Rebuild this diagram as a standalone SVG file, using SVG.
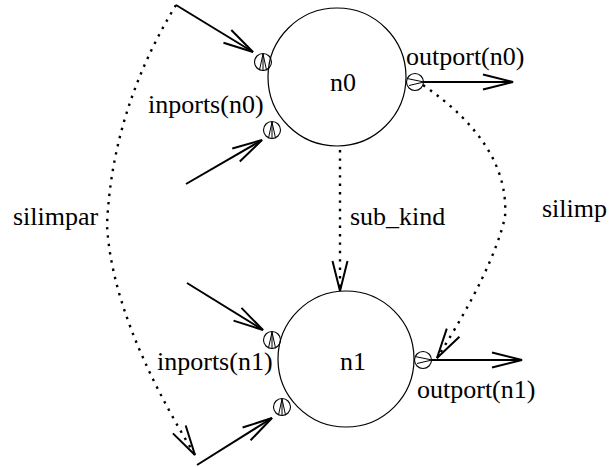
<svg xmlns="http://www.w3.org/2000/svg" xmlns:xlink="http://www.w3.org/1999/xlink" width="610" height="467" viewBox="0 0 610 467">
  <style>
    .node { fill: none; stroke: #000; stroke-width: 1.2; }
    .port { fill: none; stroke: #000; stroke-width: 1.1; }
    .glyph { fill: none; stroke: #000; stroke-width: 1; }
    .edge { fill: none; stroke: #000; stroke-width: 2; }
    .dot { fill: none; stroke: #000; stroke-width: 2.4; stroke-dasharray: 2.4 6; }
    .head { fill: none; stroke: #000; stroke-width: 2; stroke-dasharray: none; }
    .lbl { font-family: "Liberation Serif", "DejaVu Serif", "Times New Roman", serif; font-size: 26px; fill: #000; }
  </style>
  <defs>
    <marker id="open" markerUnits="userSpaceOnUse" markerWidth="40" markerHeight="40" refX="0" refY="0" orient="auto" overflow="visible">
      <path class="head" d="M-30,-7.5 L0,0 L-30,7.5"/>
    </marker>
    <!-- input port: small circle with an upward arrow -->
    <g id="inport">
      <circle class="port" r="8.5"/>
      <path class="glyph" d="M-3.5,8 L0,-8 L3.5,8 M0,-8 V9"/>
    </g>
    <!-- output port: small circle with a rightward arrow -->
    <g id="outport">
      <circle class="port" r="8.5"/>
      <path class="glyph" d="M-8,-3.5 L9,0 L-6,3.5"/>
    </g>
  </defs>

  <g id="n0">
    <circle class="node" cx="337" cy="77" r="69"/>
    <text class="lbl" x="330" y="91">n0</text>
  </g>
  <g id="n1">
    <circle class="node" cx="346" cy="359" r="68"/>
    <text class="lbl" x="340" y="370">n1</text>
  </g>

  <g id="connectors">
    <!-- solid inputs / outputs -->
    <path class="edge" d="M176,5 L253,52" marker-end="url(#open)"/>
    <path class="edge" d="M186,184 L262,140" marker-end="url(#open)"/>
    <path class="edge" d="M187,283 L263,330" marker-end="url(#open)"/>
    <path class="edge" d="M197,465 L272,418" marker-end="url(#open)"/>
    <path class="edge" d="M424,82 L513,82" marker-end="url(#open)"/>
    <path class="edge" d="M432,360 L522,360" marker-end="url(#open)"/>
    <!-- dotted relations -->
    <path class="dot" d="M340,150 L340,291" marker-end="url(#open)"/>
    <path class="dot" d="M176,5 Q112,110 107,225 Q112,320 195,455" marker-end="url(#open)"/>
    <path class="dot" d="M423,85 Q510,145 505,217 Q493,270 437,358" marker-end="url(#open)"/>
  </g>

  <g id="ports">
    <use xlink:href="#inport" x="263" y="62"/>
    <use xlink:href="#inport" x="272" y="130"/>
    <use xlink:href="#outport" x="415" y="82"/>
    <use xlink:href="#inport" x="272" y="340"/>
    <use xlink:href="#inport" x="282" y="407"/>
    <use xlink:href="#outport" x="423" y="360"/>
  </g>

  <g id="labels">
    <text class="lbl" x="148" y="113">inports(n0)</text>
    <text class="lbl" x="406" y="65">outport(n0)</text>
    <text class="lbl" x="350" y="225">sub_kind</text>
    <text class="lbl" x="542" y="217">silimp</text>
    <text class="lbl" x="13" y="225">silimpar</text>
    <text class="lbl" x="157" y="370">inports(n1)</text>
    <text class="lbl" x="417" y="398">outport(n1)</text>
  </g>
</svg>
